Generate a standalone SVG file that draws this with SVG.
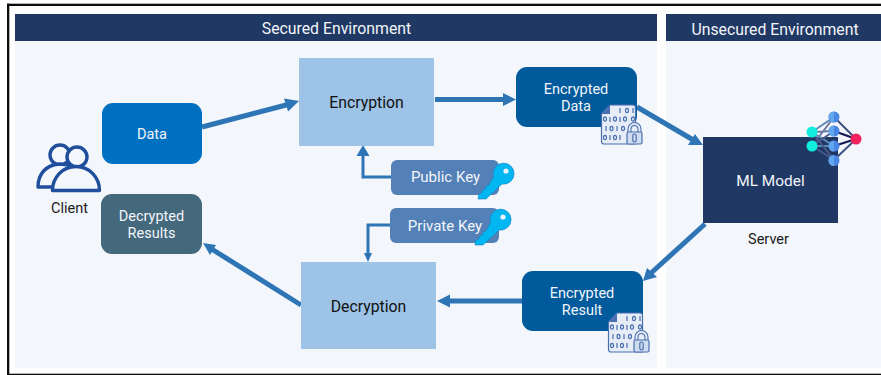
<svg xmlns="http://www.w3.org/2000/svg" xmlns:xlink="http://www.w3.org/1999/xlink" width="881" height="375" viewBox="0 0 881 375">
<style>
text{font-family:Roboto,"Liberation Sans",sans-serif;font-size:14.5px;text-anchor:middle}
.w{fill:#f2f5f9}
.k{fill:#1a1a1a;font-size:14.500px}
.hd{font-size:15.800px;fill:#f2f5f9}
.m{font-size:15.800px;fill:#111}
.ky{font-size:15px}
.band{fill:#203864}
.panel{fill:#f3f6fa}
.lb{fill:#9dc3e6}
.c{fill:none;stroke:#2e75b6;stroke-width:5}
.c2{fill:none;stroke:#2e75b6;stroke-width:3}
.ah{fill:#2e75b6}
.doc{fill:#e6edf7;stroke:#4a6fb0;stroke-width:1.200}
.lock{fill:#cfdcf0;stroke:#4a6fb0;stroke-width:1.200}
.bit{fill:none;stroke:#4a6fb0;stroke-width:1.200}
.key{fill:#00b7f1;stroke:#1a7fc4;stroke-width:.6}
.nl{stroke-width:2;fill:none}
</style>
<defs>
<g id="lockdoc">
<path class="doc" d="M9 1H32a2.500 2.500 0 0 1 2.500 2.500V40H3A2.500 2.500 0 0 1 .5 37.500V10Z"/>
<path d="M1 10 9 1V10Z" fill="#4a6fb0"/>
<g class="bit">
<path d="M19 4v5M32 4v5"/><ellipse cx="26" cy="6.500" rx="1.500" ry="2.200"/>
<ellipse cx="4" cy="15" rx="1.500" ry="2.200"/><ellipse cx="14" cy="15" rx="1.500" ry="2.200"/><ellipse cx="24" cy="15" rx="1.500" ry="2.200"/><ellipse cx="32" cy="15" rx="1.500" ry="2.200"/>
<path d="M9 13v5M19 13v5"/>
<path d="M5 22v5M16 22v5"/><ellipse cx="10.500" cy="24.500" rx="1.500" ry="2.200"/><ellipse cx="22" cy="24.500" rx="1.500" ry="2.200"/>
<ellipse cx="4" cy="33.500" rx="1.500" ry="2.200"/><ellipse cx="14" cy="33.500" rx="1.500" ry="2.200"/>
<path d="M9 31v5M19 31v5"/>
</g>
<path d="M27 28v-3a6.500 6.500 0 0 1 13 0v3M30 28v-3a3.500 3.500 0 0 1 7 0v3" fill="#e6edf7" stroke="#4a6fb0" stroke-width="1.100"/>
<rect class="lock" x="26" y="28" width="15" height="12" rx="1.500"/>
<rect x="31.800" y="30" width="3.400" height="8" rx="1.700" fill="none" stroke="#4a6fb0" stroke-width="1.200"/>
</g>
<g id="key">
<path class="key" d="M0 35 .8 30 4 29 4.500 26 7.500 25 8 22 11 21 15.500 12.500A10.500 10.500 0 1 1 24 20L8 35Z"/>
<circle cx="28" cy="7" r="2.600" fill="#eaf2fa"/>
</g>
<g id="nnode"><circle r="5.500" fill="#4a86e4"/><path d="M0-5.500A5.500 5.500 0 0 0 0 5.500Z" fill="#62a6ee"/></g>
</defs>

<g id="frame" fill="#0d0d0d">
<rect x="7" y="3.700" width="874" height="2.300"/>
<rect x="7" y="3.700" width="2.300" height="371.300"/>
<rect x="7" y="373.700" width="874" height="1.300"/>
</g>

<g id="secured-environment">
<rect class="panel" x="15" y="41" width="642" height="327"/>
<rect class="band" x="15" y="14" width="642" height="27"/>
<text class="hd" x="336.500" y="33.500">Secured Environment</text>
</g>
<g id="unsecured-environment">
<rect class="panel" x="666" y="41" width="215" height="327"/>
<rect class="band" x="666" y="14" width="215" height="27"/>
<text class="hd" x="775" y="34.500">Unsecured Environment</text>
</g>

<g id="connectors">
<path class="c" d="M202 127 290 104"/><path class="ah" d="M299 101 284 98.500 288 111.500Z"/>
<path class="c" d="M435 99.500H506"/><path class="ah" d="M516 99.500 503 93V106Z"/>
<path class="c" d="M637 107 695 141"/><path class="ah" d="M703 145 688 145 695 134Z"/>
<path class="c" d="M705 224 650 274"/><path class="ah" d="M643 281 657 277 647 268Z"/>
<path class="c" d="M522 301H447"/><path class="ah" d="M437 301 450 294.500V307.500Z"/>
<path class="c" d="M301 305 210 248"/><path class="ah" d="M203 243 210 255 216 245Z"/>
<path class="c2" d="M391 177H363V154"/><path class="ah" d="M363 145 356.500 156H369.500Z"/>
<path class="c2" d="M391 225H368V254"/><path class="ah" d="M368 262 364 253H372Z"/>
</g>

<g id="data"><rect x="102" y="103" width="100" height="61" rx="11" fill="#0070c0"/><text class="w" x="152" y="139">Data</text></g>

<g id="decrypted-results"><rect x="101" y="194" width="101" height="60" rx="11" fill="#44687c"/><text class="w" x="151.500" y="221">Decrypted</text><text class="w" x="151.500" y="238">Results</text></g>

<g id="client">
<g fill="#f3f6fa" stroke="#1f4e9c" stroke-width="3.400" stroke-linejoin="round">
<circle cx="60" cy="155" r="10"/>
<path d="M38 187c0-13 8-22 21-23 5 0 10 1 14 3l5 20Z"/>
<circle cx="77" cy="157" r="10"/>
<path d="M52.500 190.500c0-13 10-24 23.500-24s23.500 11 23.500 24Z"/>
</g>
<text class="k" x="69.500" y="212.500">Client</text>
</g>

<g id="encryption"><rect class="lb" x="299" y="58" width="135" height="88"/><text class="m" x="366.500" y="107.500">Encryption</text></g>
<g id="decryption"><rect class="lb" x="301" y="262" width="135" height="87"/><text class="m" x="368.500" y="311.500">Decryption</text></g>

<g id="public-key"><rect x="391" y="160" width="108" height="35" rx="6" fill="#5480b8"/><text class="w ky" x="445.500" y="182">Public Key</text><use xlink:href="#key" href="#key" x="478" y="164"/></g>
<g id="private-key"><rect x="390" y="208" width="109" height="35" rx="6" fill="#5480b8"/><text class="w ky" x="445" y="231">Private Key</text><use xlink:href="#key" href="#key" x="475" y="210"/></g>

<g id="encrypted-data"><rect x="516" y="67" width="121" height="60" rx="11" fill="#005a9c"/><text class="w" x="576" y="94">Encrypted</text><text class="w" x="576" y="111">Data</text><use xlink:href="#lockdoc" href="#lockdoc" x="601" y="104"/></g>

<g id="encrypted-result"><rect x="522" y="271" width="121" height="60" rx="11" fill="#005a9c"/><text class="w" x="582" y="297.500">Encrypted</text><text class="w" x="582" y="315">Result</text><use xlink:href="#lockdoc" href="#lockdoc" x="608" y="312"/></g>

<g id="ml-model">
<rect x="703" y="137" width="135" height="86" fill="#203864"/>
<text class="w" x="770.500" y="185.500" style="font-size:15.400px">ML Model</text>
<g class="nl">
<path d="M812 132 834 117" stroke="#5b8ab5"/><path d="M812 132 834 131M812 146 834 117" stroke="#4a5a8c" opacity=".8"/>
<path d="M812 132 834 146M812 146 834 146" stroke="#5b8ab5"/><path d="M812 132 834 160M812 146 834 160M812 146 834 131" stroke="#4a5a8c"/>
<path d="M834 117 856 139M834 160 856 139" stroke="#3f4f80"/><path d="M834 131 856 139M834 146 856 139" stroke="#101a50"/>
</g>
<circle cx="812" cy="132" r="5.500" fill="#12eedd"/><circle cx="812" cy="146" r="5.500" fill="#12eedd"/>
<use xlink:href="#nnode" href="#nnode" x="834" y="117"/><use xlink:href="#nnode" href="#nnode" x="834" y="131"/><use xlink:href="#nnode" href="#nnode" x="834" y="146"/><use xlink:href="#nnode" href="#nnode" x="834" y="160.500"/>
<circle cx="856" cy="139" r="5.500" fill="#f4235f"/>
<text class="k" x="768.500" y="244">Server</text>
</g>
</svg>
